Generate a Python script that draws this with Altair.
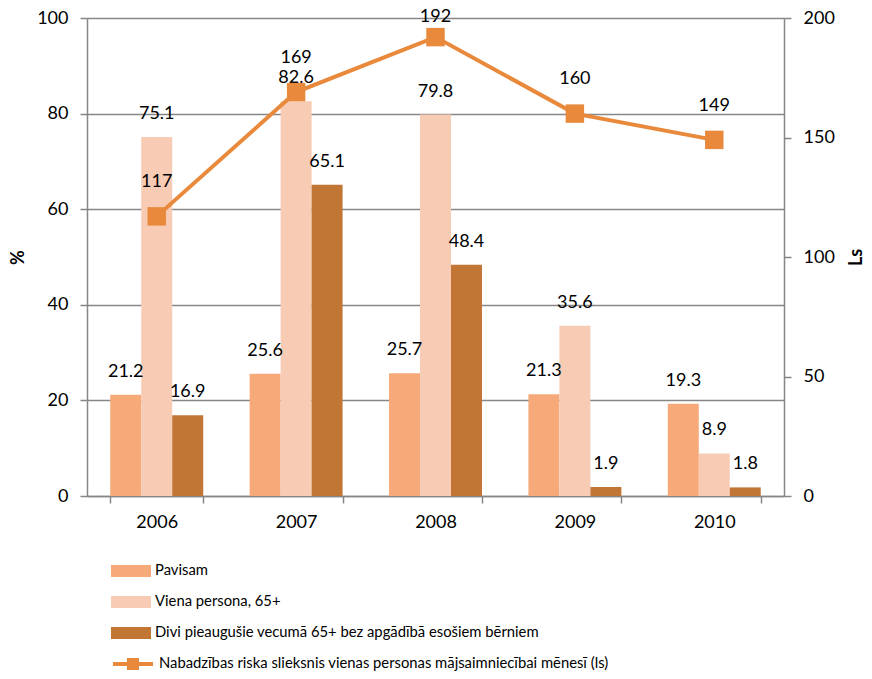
import altair as alt
import pandas as pd

years = ["2006", "2007", "2008", "2009", "2010"]
series_names = [
    "Pavisam",
    "Viena persona, 65+",
    "Divi pieaugušie vecumā 65+ bez apgādībā esošiem bērniem",
]
pavisam = [21.2, 25.6, 25.7, 21.3, 19.3]
viena = [75.1, 82.6, 79.8, 35.6, 8.9]
divi = [16.9, 65.1, 48.4, 1.9, 1.8]
line_name = "Nabadzības riska slieksnis vienas personas mājsaimniecībai mēnesī (ls)"
slieksnis = [117, 169, 192, 160, 149]

bar_colors = ["#F6AA7A", "#F8CBB4", "#C27636"]
line_color = "#E8893C"
FONT = "Lato"
NUM_SIZE = 18
LEG_SIZE = 14.8

rows = []
for i, y in enumerate(years):
    for s, vals in zip(series_names, [pavisam, viena, divi]):
        rows.append({"year": y, "series": s, "value": vals[i]})
bars_df = pd.DataFrame(rows)
line_df = pd.DataFrame({"year": years, "ls": slieksnis, "name": [line_name] * len(years)})

x_enc = alt.X(
    "year:N",
    sort=years,
    scale=alt.Scale(paddingInner=0.333, paddingOuter=0.1667),
    axis=alt.Axis(
        title=None, labelAngle=0, labelFont=FONT, labelFontSize=NUM_SIZE, labelColor="#000000",
        domainColor="#868686", domainWidth=1.5, tickColor="#868686", tickWidth=1.5,
        tickSize=7, tickBand="extent", labelPadding=10, grid=False,
    ),
)

left_axis = alt.Axis(
    title="%", titleFont=FONT, titleFontSize=NUM_SIZE, titleFontWeight="bold", titleAngle=270,
    titlePadding=9, titleColor="#000000",
    values=[0, 20, 40, 60, 80, 100], labelFont=FONT, labelFontSize=NUM_SIZE, labelColor="#000000",
    labelPadding=12, tickSize=7, tickColor="#868686", tickWidth=1.5,
    domainColor="#868686", domainWidth=1.5, grid=True, gridColor="#878787", gridWidth=1.5,
)

right_axis = alt.Axis(
    orient="right", title="Ls", titleFont=FONT, titleFontSize=NUM_SIZE, titleFontWeight="bold",
    titleAngle=270, titleX=72, titleY=239, titleAlign="center", titleBaseline="middle",
    titleColor="#000000",
    values=[0, 50, 100, 150, 200], labelFont=FONT, labelFontSize=NUM_SIZE, labelColor="#000000",
    labelPadding=12, tickSize=7, tickColor="#868686", tickWidth=1.5,
    domainColor="#868686", domainWidth=1.5, grid=False,
)

bars = alt.Chart(bars_df).mark_bar().encode(
    x=x_enc,
    xOffset=alt.XOffset("series:N", sort=series_names, scale=alt.Scale(paddingInner=0, paddingOuter=0)),
    y=alt.Y("value:Q", scale=alt.Scale(domain=[0, 100]), axis=left_axis),
    fill=alt.Fill(
        "series:N",
        sort=series_names,
        scale=alt.Scale(domain=series_names, range=bar_colors),
        legend=alt.Legend(
            title=None, orient="none", legendX=24, legendY=533, direction="vertical",
            symbolType="M-1,-0.3H1V0.3H-1Z", symbolSize=1600, symbolStrokeWidth=0,
            labelFont=FONT, labelFontSize=LEG_SIZE, labelColor="#000000", labelOffset=4,
            rowPadding=4, labelLimit=800,
        ),
    ),
)

bar_labels = alt.Chart(bars_df).mark_text(
    font=FONT, fontSize=NUM_SIZE, color="#000000", baseline="middle", dy=-23
).encode(
    x=alt.X("year:N", sort=years),
    xOffset=alt.XOffset("series:N", sort=series_names),
    y=alt.Y("value:Q", scale=alt.Scale(domain=[0, 100]), axis=left_axis),
    text=alt.Text("value:Q", format=".1f"),
)

line = alt.Chart(line_df).mark_line(strokeWidth=4).encode(
    x=alt.X("year:N", sort=years),
    y=alt.Y("ls:Q", scale=alt.Scale(domain=[0, 200]), axis=right_axis),
    stroke=alt.Stroke(
        "name:N",
        scale=alt.Scale(domain=[line_name], range=[line_color]),
        legend=alt.Legend(
            title=None, orient="none", legendX=24, legendY=624,
            symbolType="M-1,0H-0.2M0.2,0H1M-0.2,-0.2H0.2V0.2H-0.2Z",
            symbolSize=1600, symbolStrokeWidth=4, symbolFillColor=line_color,
            labelFont=FONT, labelFontSize=LEG_SIZE, labelColor="#000000", labelOffset=4, labelLimit=800,
        ),
    ),
)

points = alt.Chart(line_df).mark_point(
    shape="square", filled=True, size=340, color=line_color, opacity=1
).encode(
    x=alt.X("year:N", sort=years),
    y=alt.Y("ls:Q", scale=alt.Scale(domain=[0, 200]), axis=right_axis),
)

line_labels = alt.Chart(line_df).transform_calculate(
    ly="min(datum.ls + 14.3, 200.4)"
).mark_text(font=FONT, fontSize=NUM_SIZE, color="#000000", baseline="middle").encode(
    x=alt.X("year:N", sort=years),
    y=alt.Y("ly:Q", scale=alt.Scale(domain=[0, 200]), axis=right_axis),
    text=alt.Text("ls:Q"),
)

left = alt.layer(bars, bar_labels)
right = alt.layer(line, points, line_labels)

chart = alt.layer(left, right).resolve_scale(y="independent").properties(
    width=697,
    height=478,
    autosize=alt.AutoSizeParams(type="none"),
    padding={"left": 79, "top": 10, "right": 80, "bottom": 175},
).configure_view(stroke=None)

chart.save("out.html", embed_options={"renderer": "svg", "actions": False})
